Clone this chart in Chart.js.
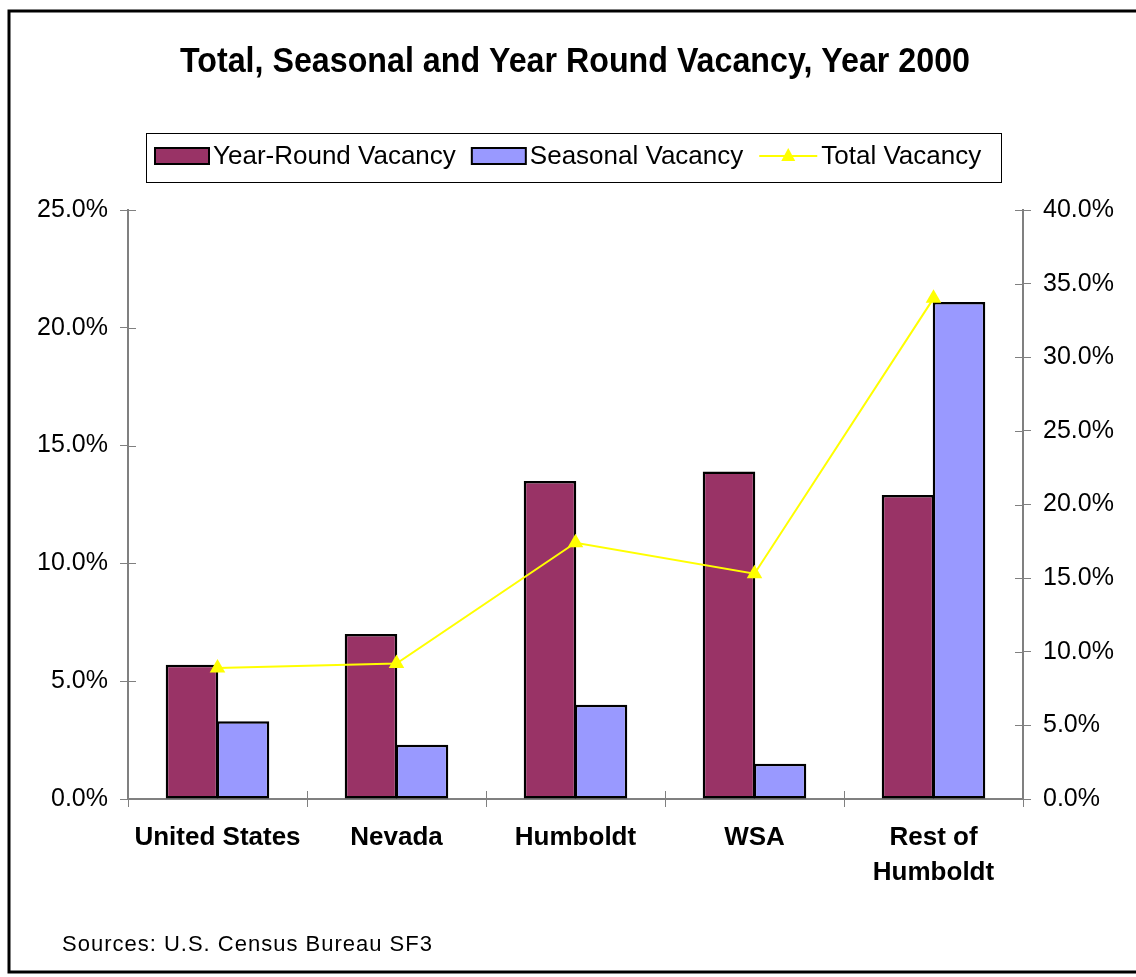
<!DOCTYPE html>
<html>
<head>
<meta charset="utf-8">
<script src="https://cdn.jsdelivr.net/npm/chart.js@4.4.1/dist/chart.umd.min.js"></script>
<style>
  html, body { margin: 0; padding: 0; background: #ffffff; }
  #wrap { width: 1136px; height: 977px; position: relative; }
</style>
</head>
<body>
<div id="wrap"><canvas id="chart-vacancy"></canvas></div>
<script>
// ---- data ----
const categories = [['United States'], ['Nevada'], ['Humboldt'], ['WSA'], ['Rest of', 'Humboldt']];
const yearRoundVacancy = [5.7, 7.0, 13.5, 13.9, 12.9];   // left axis, %
const seasonalVacancy = [3.3, 2.3, 4.0, 1.5, 21.1];      // left axis, %
const totalVacancy = [8.9, 9.2, 17.4, 15.3, 34.0];       // right axis, %
const leftAxisMax = 25;
const rightAxisMax = 40;
const tickStep = 5;

const titleText = 'Total, Seasonal and Year Round Vacancy, Year 2000';
const sourceText = 'Sources: U.S. Census Bureau SF3';
const legendLabels = ['Year-Round Vacancy', 'Seasonal Vacancy', 'Total Vacancy'];

const COLORS = {
  yearRound: '#993366',
  seasonal: '#9999FF',
  total: '#FFFF00',
  axis: '#808080'
};
const FONT = "'Liberation Sans', Arial, sans-serif";

// Frame, title, legend box, source line and the inner half of the cross ticks
const decorations = {
  id: 'decorations',
  afterDraw(chart) {
    const { ctx, scales } = chart;
    ctx.save();

    // outer frame
    ctx.strokeStyle = '#000';
    ctx.lineWidth = 3;
    ctx.strokeRect(9, 11, 1150, 961);

    // title
    ctx.fillStyle = '#000';
    ctx.textAlign = 'center';
    ctx.textBaseline = 'middle';
    ctx.font = `bold 35px ${FONT}`;
    ctx.fillText(titleText, 575, 62, 790);

    // legend
    ctx.lineWidth = 1;
    ctx.strokeRect(146.5, 133.5, 855, 49);
    ctx.font = `26px ${FONT}`;
    ctx.textAlign = 'left';
    const ly = 156;
    let x = 155;
    [COLORS.yearRound, COLORS.seasonal].forEach((c, i) => {
      ctx.fillStyle = c;
      ctx.fillRect(x, ly - 8, 54, 16);
      ctx.lineWidth = 2;
      ctx.strokeStyle = '#000';
      ctx.strokeRect(x, ly - 8, 54, 16);
      ctx.fillStyle = '#000';
      ctx.fillText(legendLabels[i], x + 58, ly + 1, 247);
      x += 58 + Math.min(247, ctx.measureText(legendLabels[i]).width) + 16;
    });
    ctx.strokeStyle = COLORS.total;
    ctx.lineWidth = 2;
    ctx.beginPath();
    ctx.moveTo(x, ly);
    ctx.lineTo(x + 58, ly);
    ctx.stroke();
    ctx.fillStyle = COLORS.total;
    ctx.beginPath();
    ctx.moveTo(x + 29, ly - 8);
    ctx.lineTo(x + 36, ly + 5);
    ctx.lineTo(x + 22, ly + 5);
    ctx.closePath();
    ctx.fill();
    ctx.fillStyle = '#000';
    ctx.fillText(legendLabels[2], x + 62, ly + 1);

    // source note
    ctx.font = `22px ${FONT}`;
    ctx.letterSpacing = '1px';
    ctx.fillText(sourceText, 62, 945, 378);
    ctx.letterSpacing = '0px';

    // inward half of the tick marks
    ctx.strokeStyle = COLORS.axis;
    ctx.lineWidth = 1;
    ctx.beginPath();
    const yl = scales.y, yr = scales.y1, xs = scales.x;
    yl.ticks.forEach((t, i) => {
      const p = Math.round(yl.getPixelForTick(i)) + 0.5;
      ctx.moveTo(yl.right, p); ctx.lineTo(yl.right + 8, p);
    });
    yr.ticks.forEach((t, i) => {
      const p = Math.round(yr.getPixelForTick(i)) + 0.5;
      ctx.moveTo(yr.left - 8, p); ctx.lineTo(yr.left, p);
    });
    for (let i = 0; i <= categories.length; i++) {
      const p = Math.round(xs.getPixelForValue(i - 0.5)) + 0.5;
      ctx.moveTo(p, xs.top - 8); ctx.lineTo(p, xs.top);
    }
    ctx.stroke();
    ctx.restore();
  }
};

const barStyle = {
  type: 'bar',
  yAxisID: 'y',
  order: 1,
  borderColor: '#000',
  borderWidth: 2.5,
  borderSkipped: false,
  categoryPercentage: 0.57,
  barPercentage: 1.03
};

new Chart(document.getElementById('chart-vacancy'), {
  data: {
    labels: categories,
    datasets: [
      {
        type: 'line',
        label: legendLabels[2],
        data: totalVacancy,
        yAxisID: 'y1',
        order: 0,
        borderColor: COLORS.total,
        backgroundColor: COLORS.total,
        borderWidth: 2,
        pointStyle: 'triangle',
        pointRadius: 9,
        pointBorderWidth: 0,
        pointBackgroundColor: COLORS.total,
        tension: 0
      },
      Object.assign({}, barStyle, {
        label: legendLabels[0],
        data: yearRoundVacancy,
        backgroundColor: COLORS.yearRound
      }),
      Object.assign({}, barStyle, {
        label: legendLabels[1],
        data: seasonalVacancy,
        backgroundColor: COLORS.seasonal
      })
    ]
  },
  options: {
    responsive: true,
    maintainAspectRatio: false,
    animation: false,
    layout: { padding: { top: 210, left: 0, right: 0, bottom: 0 } },
    plugins: {
      legend: { display: false },
      title: { display: false },
      tooltip: { enabled: false }
    },
    scales: {
      x: {
        offset: true,
        grid: { offset: true, drawOnChartArea: false, color: COLORS.axis, tickLength: 8 },
        border: { color: COLORS.axis, width: 2 },
        ticks: {
          color: '#000',
          padding: 14,
          maxRotation: 0,
          font: { family: FONT, size: 26, weight: 'bold', lineHeight: 1.33 }
        },
        afterFit(scale) { scale.height = 178; }
      },
      y: {
        position: 'left',
        min: 0,
        max: leftAxisMax,
        grid: { drawOnChartArea: false, color: COLORS.axis, tickLength: 8 },
        border: { color: COLORS.axis, width: 2 },
        ticks: {
          stepSize: tickStep,
          color: '#000',
          padding: 12,
          font: { family: FONT, size: 25 },
          callback: v => v.toFixed(1) + '%'
        },
        afterFit(scale) { scale.width = 128; }
      },
      y1: {
        position: 'right',
        min: 0,
        max: rightAxisMax,
        grid: { drawOnChartArea: false, color: COLORS.axis, tickLength: 8 },
        border: { color: COLORS.axis, width: 2 },
        ticks: {
          stepSize: tickStep,
          color: '#000',
          padding: 12,
          font: { family: FONT, size: 25 },
          callback: v => v.toFixed(1) + '%'
        },
        afterFit(scale) { scale.width = 113; }
      }
    }
  },
  plugins: [decorations]
});
</script>
</body>
</html>
